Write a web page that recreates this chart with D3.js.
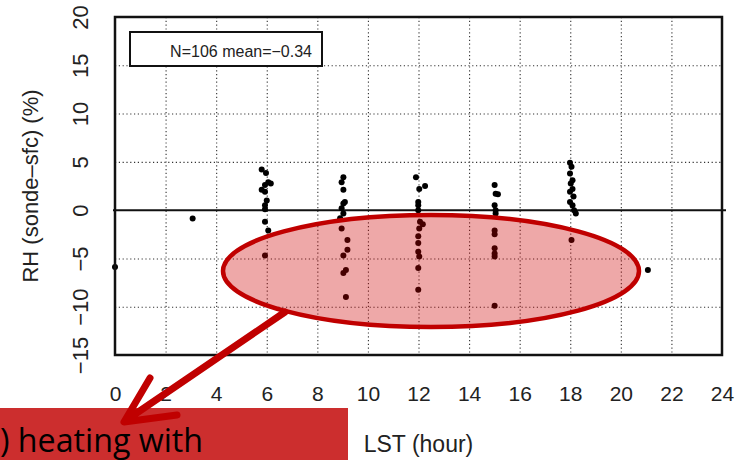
<!DOCTYPE html>
<html>
<head>
<meta charset="utf-8">
<script src="https://cdn.jsdelivr.net/npm/d3@7"></script>
<style>
  body { margin: 0; background: #fff; }
  svg { display: block; font-family: "Liberation Sans", Arial, sans-serif; }
</style>
</head>
<body>
<div id="chart"></div>
<script>
// LST (hour) of each sonde, slightly jittered around launch time
const lstHours = [
  0.0, 3.07,
  5.80, 5.97, 6.06, 6.16, 5.93, 5.80, 5.93, 6.00, 5.93, 5.93, 5.93, 6.06, 5.93,
  9.03, 8.96, 9.03, 9.09, 9.03, 8.96, 9.03, 8.90, 8.96, 9.19, 9.19, 9.03, 9.13, 9.03, 9.13,
  11.90, 12.26, 12.03, 11.99, 11.99, 11.99, 12.06, 12.17, 12.03, 11.99, 11.99, 11.99, 12.03, 11.99, 11.99,
  15.01, 15.05, 15.14, 15.01, 15.05, 15.05, 15.01, 15.01, 15.01, 15.01, 15.01, 15.01,
  17.99, 18.05, 17.99, 18.09, 18.02, 18.09, 17.99, 18.13, 17.99, 18.09, 18.15, 18.22, 18.05,
  21.07
];
// RH difference sonde - surface (%)
const rhDiff = [
  -5.9, -0.86,
  4.2, 3.85, 2.9, 2.75, 2.6, 2.1, 1.9, 1.0, 0.5, 0.1, -1.2, -2.1, -4.7,
  3.4, 2.9, 2.1, 0.85, 0.7, 0.2, -0.35, -0.85, -1.9, -3.1, -4.1, -4.7, -6.2, -6.5, -9.0,
  3.4, 2.5, 2.2, 0.85, 0.5, 0.0, -1.2, -1.45, -1.9, -2.7, -3.4, -4.3, -4.8, -6.0, -8.25,
  2.6, 1.7, 1.65, 0.5, 0.0, -0.35, -2.1, -2.5, -3.95, -4.5, -4.8, -9.9,
  4.9, 4.5, 3.8, 3.1, 2.75, 2.2, 1.9, 1.4, 0.85, 0.5, 0.0, -0.35, -3.1,
  -6.2
];
const xTicks = [0, 2, 4, 6, 8, 10, 12, 14, 16, 18, 20, 22, 24];
const yTicks = [-15, -10, -5, 0, 5, 10, 15, 20];
const xGrid = [2, 4, 6, 8, 10, 12, 14, 16, 18, 20, 22];
const yGrid = [-10, -5, 5, 10, 15];
const statsLabel = 'N=106 mean=\u22120.34';
const xTitle = 'LST (hour)';
const yTitle = 'RH (sonde\u2013sfc) (%)';
const calloutText = ') heating with';

const width = 737, height = 460;
const margin = { top: 17, right: 15, bottom: 105, left: 115 };
const w = width - margin.left - margin.right;
const h = height - margin.top - margin.bottom;

const x = d3.scaleLinear().domain([0, 24]).range([0, w]);
const y = d3.scaleLinear().domain([-15, 20]).range([h, 0]);
const minus = s => String(s).replace('-', '\u2212');

const svg = d3.select('#chart').append('svg')
  .attr('width', width)
  .attr('height', height);

const g = svg.append('g')
  .attr('transform', `translate(${margin.left},${margin.top})`);

// dotted grid
g.append('g')
  .attr('class', 'grid')
  .call(d3.axisBottom(x).tickValues(xGrid).tickSize(h).tickFormat(''))
  .call(s => s.select('.domain').remove());
g.append('g')
  .attr('class', 'grid')
  .call(d3.axisLeft(y).tickValues(yGrid).tickSize(-w).tickFormat(''))
  .call(s => s.select('.domain').remove());
g.selectAll('.grid line')
  .attr('stroke', '#333')
  .attr('stroke-width', 1.1)
  .attr('stroke-dasharray', '1.2,2.6');

// axis labels
g.append('g')
  .attr('transform', `translate(0,${h})`)
  .call(d3.axisBottom(x).tickValues(xTicks).tickSize(0).tickPadding(31))
  .call(s => s.select('.domain').remove())
  .selectAll('text')
    .attr('font-size', 21)
    .attr('fill', '#222')
    .attr('font-family', '"Liberation Sans", Arial, sans-serif');

g.append('g')
  .call(d3.axisLeft(y).tickValues(yTicks).tickSize(0).tickFormat(minus))
  .call(s => s.select('.domain').remove())
  .selectAll('text')
    .attr('transform', 'rotate(-90)')
    .attr('x', 0)
    .attr('y', -27)
    .attr('dy', 0)
    .attr('text-anchor', 'middle')
    .attr('font-size', 22)
    .attr('fill', '#222')
    .attr('font-family', '"Liberation Sans", Arial, sans-serif');

// zero line
g.append('line')
  .attr('x1', -2).attr('x2', w + 4)
  .attr('y1', y(0)).attr('y2', y(0))
  .attr('stroke', '#111')
  .attr('stroke-width', 2);

// points
g.selectAll('circle.obs')
  .data(lstHours.map((d, i) => [d, rhDiff[i]]))
  .enter().append('circle')
    .attr('class', 'obs')
    .attr('cx', d => x(d[0]))
    .attr('cy', d => y(d[1]))
    .attr('r', 3)
    .attr('fill', '#000');

// frame
g.append('rect')
  .attr('width', w)
  .attr('height', h)
  .attr('fill', 'none')
  .attr('stroke', '#111')
  .attr('stroke-width', 2.5);

// stats box
g.append('rect')
  .attr('x', 15).attr('y', 15)
  .attr('width', 192).attr('height', 34)
  .attr('fill', '#fff')
  .attr('stroke', '#111')
  .attr('stroke-width', 2);
g.append('text')
  .attr('x', 197).attr('y', 40)
  .attr('text-anchor', 'end')
  .attr('font-size', 16)
  .attr('fill', '#222')
  .text(statsLabel);

// axis titles
svg.append('text')
  .attr('x', margin.left + w / 2).attr('y', 452)
  .attr('text-anchor', 'middle')
  .attr('font-size', 23)
  .attr('fill', '#222')
  .text(xTitle);
svg.append('text')
  .attr('transform', `translate(38,${margin.top + h / 2}) rotate(-90)`)
  .attr('text-anchor', 'middle')
  .attr('font-size', 22)
  .attr('textLength', 193)
  .attr('lengthAdjust', 'spacingAndGlyphs')
  .attr('fill', '#222')
  .text(yTitle);

// highlight ellipse over the daytime negatives
svg.append('ellipse')
  .attr('cx', 431).attr('cy', 271)
  .attr('rx', 208).attr('ry', 56)
  .attr('fill', 'rgba(204,0,0,0.34)')
  .attr('stroke', '#c00000')
  .attr('stroke-width', 4.5);

// callout box
svg.append('rect')
  .attr('x', 0).attr('y', 408)
  .attr('width', 348).attr('height', 52)
  .attr('fill', '#cc2e2e');
svg.append('text')
  .attr('x', 0).attr('y', 452)
  .attr('font-family', '"Open Sans", "Noto Sans", sans-serif')
  .attr('font-size', 33)
  .attr('textLength', 203)
  .attr('lengthAdjust', 'spacingAndGlyphs')
  .attr('fill', '#000')
  .text(calloutText);

// arrow
svg.append('path')
  .attr('d', 'M285,312 L125,421 M150,378 L124,422 L177,415')
  .attr('fill', 'none')
  .attr('stroke', '#c00000')
  .attr('stroke-width', 7)
  .attr('stroke-linecap', 'round')
  .attr('stroke-linejoin', 'round');
</script>
</body>
</html>
